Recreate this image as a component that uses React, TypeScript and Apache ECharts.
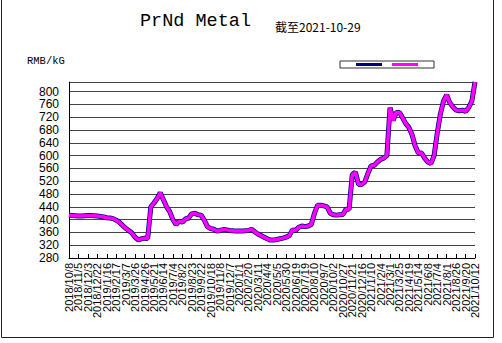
import React, { useEffect, useRef } from "react";
import * as echarts from "echarts";

const tickLabels: string[] = [
  "2018/10/8", "2018/11/5", "2018/12/3", "2018/12/22", "2019/1/16", "2019/2/17",
  "2019/3/7", "2019/3/26", "2019/4/26", "2019/5/21", "2019/6/14", "2019/7/4",
  "2019/8/2", "2019/8/23", "2019/9/22", "2019/10/18", "2019/11/8", "2019/12/7",
  "2020/1/1", "2020/2/20", "2020/3/11", "2020/4/4", "2020/5/5", "2020/5/30",
  "2020/6/19", "2020/7/19", "2020/8/10", "2020/9/7", "2020/10/2", "2020/10/27",
  "2020/11/21", "2020/12/16", "2021/1/10", "2021/2/4", "2021/3/1", "2021/3/25",
  "2021/4/19", "2021/5/14", "2021/6/8", "2021/7/4", "2021/8/1", "2021/8/26",
  "2021/9/20", "2021/10/12",
];

// samples between two tick labels
const STEP = 3;

const priceValues: number[] = [
  414, 413, 412, 411, 411, 412, 413, 413, 412, 411,
  410, 408, 406, 405, 403, 398, 392, 382, 373, 366,
  358, 345, 337, 340, 342, 341, 440, 452, 466, 484,
  462, 440, 425, 400, 385, 395, 392, 402, 405, 418,
  420, 415, 414, 398, 378, 372, 370, 364, 366, 369,
  368, 366, 365, 364, 364, 364, 365, 366, 370, 362,
  355, 350, 345, 340, 336, 336, 338, 340, 342, 345,
  350, 368, 366, 376, 380, 378, 380, 385, 420, 445,
  445, 443, 440, 420, 415, 414, 415, 416, 432, 432,
  540, 548, 510, 510, 518, 545, 568, 570, 580, 588,
  592, 600, 750, 710, 735, 735, 718, 700, 688, 665,
  630, 608, 608, 592, 580, 575, 600, 670, 730, 770,
  790, 765, 752, 742, 740, 742, 738, 750, 770, 830,
];

const categories: string[] = [];
tickLabels.forEach((lab, i) => {
  categories.push(lab);
  if (i < tickLabels.length - 1) {
    for (let k = 1; k < STEP; k++) categories.push("");
  }
});

export default function App() {
  const ref = useRef<HTMLDivElement>(null);
  useEffect(() => {
    if (!ref.current) return;
    const chart = echarts.init(ref.current, null, { renderer: "svg" });
    chart.setOption({
      animation: false,
      backgroundColor: "#ffffff",
      grid: { left: 69, right: 27, top: 82, bottom: 85, containLabel: false },
      legend: {
        left: 340,
        top: 61,
        padding: [2, 16, 2, 16],
        itemGap: 10,
        itemWidth: 26,
        itemHeight: 3,
        borderColor: "#333",
        borderWidth: 1,
        textStyle: { fontSize: 4 },
        formatter: () => "",
        data: [
          { name: "s1", icon: "rect", itemStyle: { color: "#000080" } },
          { name: "s2", icon: "rect", itemStyle: { color: "#ff00ff" } },
        ],
      },
      xAxis: {
        type: "category",
        data: categories,
        boundaryGap: false,
        axisLine: { lineStyle: { color: "#000", width: 1 } },
        axisTick: {
          inside: true,
          length: 4,
          interval: (i: number) => i % STEP === 0,
          lineStyle: { color: "#000" },
        },
        axisLabel: {
          interval: 0,
          rotate: 90,
          margin: 5,
          fontSize: 11,
          fontFamily: "Liberation Sans",
          color: "#000",
        },
        splitLine: { show: false },
      },
      yAxis: {
        type: "value",
        min: 280,
        max: 830,
        interval: 40,
        axisLine: { show: true, lineStyle: { color: "#000" } },
        axisTick: { show: false },
        axisLabel: {
          showMaxLabel: false,
          margin: 10,
          fontSize: 12,
          fontFamily: "Liberation Sans",
          color: "#000",
        },
        splitLine: { show: true, lineStyle: { color: "#444", width: 1 } },
      },
      series: [
        {
          name: "s1",
          type: "line",
          data: priceValues,
          showSymbol: false,
          lineStyle: { color: "#000080", width: 5 },
          itemStyle: { color: "#000080" },
          z: 2,
        },
        {
          name: "s2",
          type: "line",
          data: priceValues,
          showSymbol: false,
          lineStyle: { color: "#ff00ff", width: 3.5 },
          itemStyle: { color: "#ff00ff" },
          z: 3,
        },
      ],
      graphic: [
        {
          type: "rect",
          shape: { x: 1.5, y: -2, width: 492, height: 339.5 },
          style: { fill: "none", stroke: "#222", lineWidth: 1 },
          silent: true,
        },
        {
          type: "text",
          left: 140,
          top: 12,
          style: {
            text: "PrNd Metal",
            fontFamily: "Liberation Mono",
            fontSize: 18.5,
            fill: "#000",
          },
        },
        {
          type: "text",
          left: 275,
          top: 20,
          style: {
            text: "截至2021-10-29",
            fontFamily: "Noto Sans CJK SC",
            fontSize: 12,
            fill: "#000",
          },
        },
        {
          type: "text",
          left: 27,
          top: 55,
          style: {
            text: "RMB/kG",
            fontFamily: "Liberation Mono",
            fontSize: 10.5,
            fill: "#000",
          },
        },
      ],
    });
    return () => chart.dispose();
  }, []);
  return (
    <div
      ref={ref}
      style={{ position: "fixed", left: 0, top: 0, width: 502, height: 343 }}
    />
  );
}
